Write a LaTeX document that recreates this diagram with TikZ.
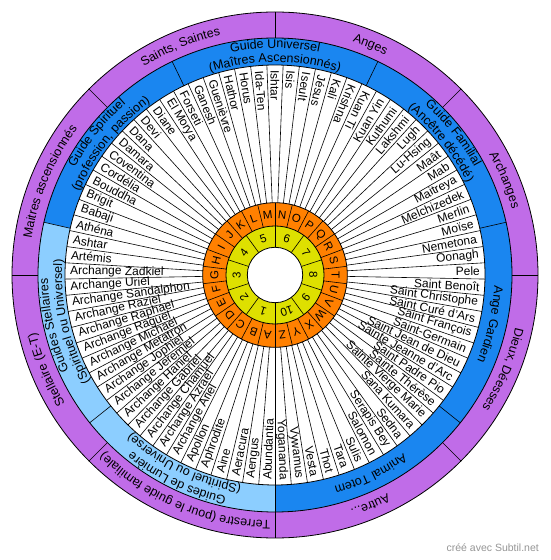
\documentclass[tikz,border=0pt]{standalone}
\usepackage{fontspec}
\setmainfont{Liberation Sans}
\usetikzlibrary{decorations.text}
\definecolor{purp}{RGB}{192,108,232}
\definecolor{dblue}{RGB}{26,134,240}
\definecolor{lblue}{RGB}{140,206,255}
\definecolor{orng}{RGB}{255,128,0}
\definecolor{yell}{RGB}{222,224,0}
\definecolor{wmark}{RGB}{150,150,150}
\newcommand\arclabel[4]{%
  \path[decorate,decoration={text along path,text align=center,
    text={|\fontsize{12.5}{14}\selectfont|#4}}]
    ({#1+#2}:#3) arc[start angle={#1+#2},end angle={#1-#2},radius=#3];}
\tikzset{
  divline/.style={draw=black,line width=0.6pt},
  ringline/.style={draw=black,line width=0.8pt},
  namestyle/.style={font=\fontsize{12}{12}\selectfont,inner sep=1pt},
  letterstyle/.style={font=\fontsize{11.5}{12}\selectfont,inner sep=0pt},
}
\begin{document}
\begin{tikzpicture}[x=1pt,y=1pt]
\useasboundingbox (0,0) rectangle (550,560);
\fill[white] (0,0) rectangle (550,560);
\begin{scope}[shift={(275,285)}]
% fills
\fill[purp] (0,0) circle[radius=263pt];
\fill[dblue] (0,0) circle[radius=237pt];
\fill[lblue] (0,0) -- (167.1429:237pt) arc[start angle=167.1429,end angle=270,radius=237pt] -- cycle;
\fill[white] (0,0) circle[radius=210pt];
\fill[orng] (0,0) circle[radius=72.3pt];
\fill[yell] (0,0) circle[radius=49pt];
\fill[white] (0,0) circle[radius=27.7pt];
% dividers
\foreach \a in {0,45,...,315} \draw[divline] (\a:237pt) -- (\a:263pt);
\foreach \k in {0,...,6} {\pgfmathsetmacro\ang{-90+\k*51.428571}
  \draw[divline] (\ang:210pt) -- (\ang:237pt);}
\foreach \k in {0,...,80} {\pgfmathsetmacro\ang{270-\k*4.4444444}
  \draw[divline] (\ang:72.3pt) -- (\ang:210pt);}
\foreach \k in {0,...,25} {\pgfmathsetmacro\ang{270-\k*13.846154}
  \draw[divline] (\ang:49pt) -- (\ang:72.3pt);}
\foreach \k in {0,...,9} {\pgfmathsetmacro\ang{270-\k*36}
  \draw[divline] (\ang:27.7pt) -- (\ang:49pt);}
% circles
\foreach \r in {263,237,210,72.3,49,27.7} \draw[ringline] (0,0) circle[radius=\r pt];
% names
\foreach \n [count=\k] in {Abundantia,Aengus,Aeracura,Aine,Aphrodite,Apollon,
  Archange Ariel,Archange Azrael,Archange Chamuel,Archange Gabriel,Archange Haniel,
  Archange Jeremiel,Archange Jophiel,Archange Metatron,Archange Michael,Archange Raguel,
  Archange Raphael,Archange Raziel,Archange Sandalphon,Archange Uriel,Archange Zadkiel,
  Artémis,Ashtar,Athéna,Babaji,Brigit,Bouddha,Cordélia,Coventina,Damara,Dana,Devi,
  Diane,El Morya,Forseti,Ganesh,Guenièvre,Hathor,Horus,Ida-Ten,Ishtar,Isis,Iseult,
  Jésus,Kali,Krishna,Kuan Ti,Kuan Yin,Kuthumi,Lakshmi,Lugh,Lu-Hsing,Maât,Mab,
  Maitreya,Melchizedek,Merlin,Moïse,Nemetona,Oonagh,Pele,Saint Benoît,
  Saint Christophe,Saint Curé d'Ars,Saint François,Saint-Germain,Saint Jean de Dieu,
  Sainte Jeanne d'Arc,Saint Padre Pio,Sainte Thérèse,Sainte Vierge Marie,Sana Kumara,
  Sedna,Serapis Bey,Salomon,Sulis,Tara,Thot,Vesta,Vywamus,Yogananda} {
  \pgfmathsetmacro\ang{270-(\k-0.5)*4.4444444}
  \ifnum\k<48
    \pgfmathsetmacro\rot{\ang+180}
    \node[namestyle,anchor=west,rotate=\rot] (nm\k) at (\ang:206pt) {\n};
  \else
    \node[namestyle,anchor=east,rotate=\ang] (nm\k) at (\ang:206pt) {\n};
  \fi
}
% letters
\foreach \l [count=\k] in {A,B,C,D,E,F,G,H,I,J,K,L,M,N,O,P,Q,R,S,T,U,V,W,X,Y,Z} {
  \pgfmathsetmacro\ang{270-(\k-0.5)*13.846154}
  \pgfmathsetmacro\rot{\ang-90}
  \node[letterstyle,rotate=\rot] (lt\k) at (\ang:60.6pt) {\l};
}
% numbers
\foreach \k in {1,...,10} {
  \pgfmathsetmacro\ang{270-(\k-0.5)*36}
  \pgfmathsetmacro\rot{\ang-90}
  \node[letterstyle,rotate=\rot] (nb\k) at (\ang:38.3pt) {\k};
}
% purple ring labels
\arclabel{67.5}{22}{246pt}{Anges}
\arclabel{22.5}{22}{246pt}{Archanges}
\arclabel{-22.5}{22}{246pt}{Dieux, Déesses}
\arclabel{-67.5}{22}{246pt}{Autre...}
\arclabel{-112.5}{22.4}{246pt}{Terrestre (pour le guide familiale)}
\arclabel{-157.5}{22}{246pt}{Stellaire (E-T)}
\arclabel{157.5}{22}{246pt}{Maitres ascensionnés}
\arclabel{112.5}{22}{246pt}{Saints, Saintes}
% blue ring labels
\arclabel{90}{25}{227pt}{Guide Universel}
\arclabel{90}{25}{213pt}{(Maîtres Ascensionnés)}
\arclabel{38.5714}{25}{227pt}{Guide Familial}
\arclabel{38.5714}{25}{213pt}{(Ancêtre décédé)}
\arclabel{-12.8571}{25}{219.5pt}{Ange Gardien}
\arclabel{-64.2857}{25}{219.5pt}{Animal Totem}
\arclabel{-115.7143}{25}{227pt}{Guides de Lumière}
\arclabel{-115.7143}{25}{213pt}{(Spirituel ou Universe)}
\arclabel{192.8571}{25}{227pt}{Guides Stellaires}
\arclabel{192.8571}{25}{213pt}{(Spirituel ou Universel)}
\arclabel{141.4286}{25}{227pt}{Guide Spirituel}
\arclabel{141.4286}{25}{213pt}{(profession, passion)}
\end{scope}
\node[text=wmark,font=\fontsize{10.5}{12}\selectfont,anchor=east,inner sep=0pt] (wm) at (539,12) {créé avec Subtil.net};
\end{tikzpicture}
\end{document}
